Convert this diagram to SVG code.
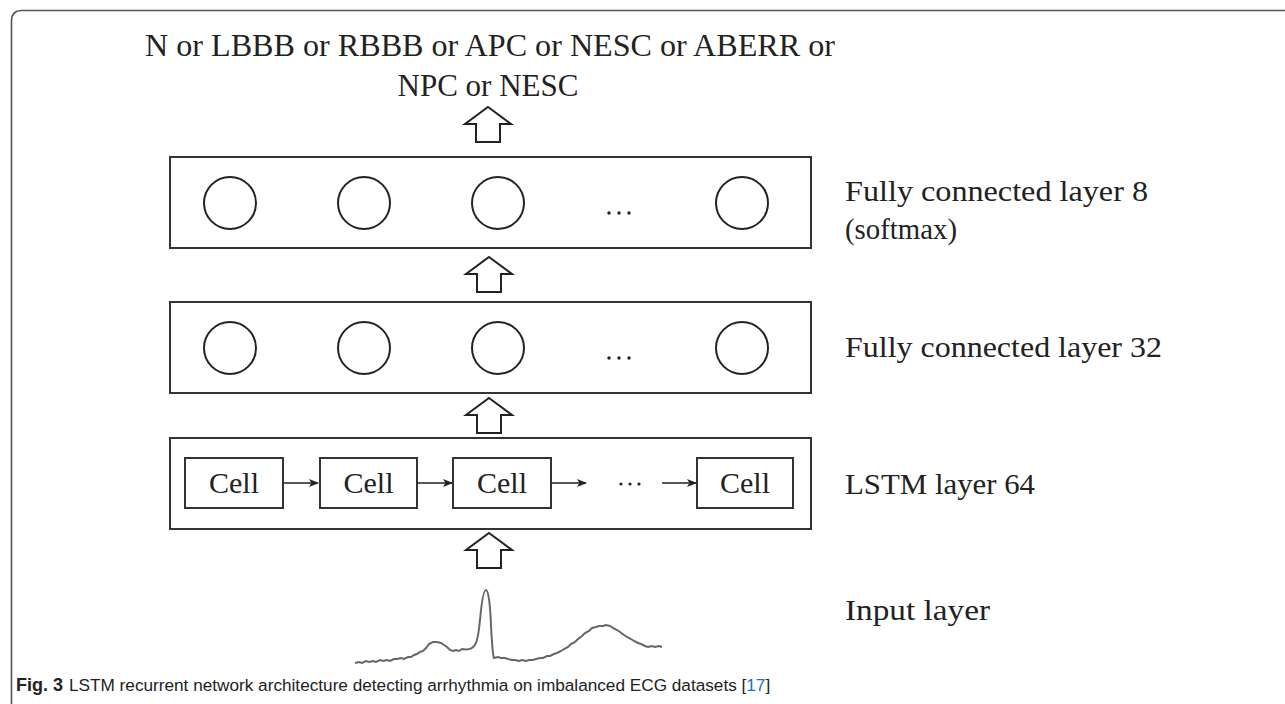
<svg xmlns="http://www.w3.org/2000/svg" width="1285" height="704" viewBox="0 0 1285 704">
<style>
.box{fill:#fff;stroke:#333;stroke-width:2}
.cell{fill:#fff;stroke:#333;stroke-width:2}
.neuron{fill:none;stroke:#222;stroke-width:2}
.up{fill:#fff;stroke:#222;stroke-width:2;stroke-linejoin:miter}
.serif{font-family:"Liberation Serif","DejaVu Serif",serif;fill:#222}
.lbl{font-size:30px}
.celltxt{font-size:30px;text-anchor:middle}
.dots{fill:#222}
.link{stroke:#222;stroke-width:1.6;fill:none}
.cap{font-family:"Liberation Sans","Noto Sans",sans-serif;font-size:17.2px;fill:#222}
</style>
<defs>
<marker id="ah" markerWidth="10" markerHeight="8" refX="9" refY="4" orient="auto" markerUnits="userSpaceOnUse">
<path d="M0,0 L10,4 L0,8 L2.5,4 Z" fill="#222"/>
</marker>
<path id="uparrow" d="M0,0 L23,17 L12,17 L12,35 L-12,35 L-12,17 L-23,17 Z"/>
</defs>
<rect width="1285" height="704" fill="#fff"/>
<path d="M11.5,704 L11.5,21 Q11.5,10.5 22,10.5 L1285,10.5" fill="none" stroke="#555" stroke-width="1.6"/>

<g id="output">
<text class="serif" x="145" y="56" font-size="31" textLength="690" lengthAdjust="spacingAndGlyphs">N or LBBB or RBBB or APC or NESC or ABERR or</text>
<text class="serif" x="488" y="96" font-size="31" text-anchor="middle">NPC or NESC</text>
</g>

<g id="fc8">
<rect class="box" x="170" y="157" width="641" height="91"/>
<circle class="neuron" cx="230" cy="203" r="26"/>
<circle class="neuron" cx="364" cy="203" r="26"/>
<circle class="neuron" cx="498" cy="203" r="26"/>
<circle class="dots" cx="609" cy="213" r="1.7"/><circle class="dots" cx="619" cy="213" r="1.7"/><circle class="dots" cx="629" cy="213" r="1.7"/>
<circle class="neuron" cx="742" cy="203" r="26"/>
<text class="serif lbl" x="845" y="201" textLength="303" lengthAdjust="spacingAndGlyphs">Fully connected layer 8</text>
<text class="serif lbl" x="845" y="239" textLength="112" lengthAdjust="spacingAndGlyphs">(softmax)</text>
</g>

<g id="fc32">
<rect class="box" x="170" y="302" width="641" height="91"/>
<circle class="neuron" cx="230" cy="348" r="26"/>
<circle class="neuron" cx="364" cy="348" r="26"/>
<circle class="neuron" cx="498" cy="348" r="26"/>
<circle class="dots" cx="609" cy="358" r="1.7"/><circle class="dots" cx="619" cy="358" r="1.7"/><circle class="dots" cx="629" cy="358" r="1.7"/>
<circle class="neuron" cx="742" cy="348" r="26"/>
<text class="serif lbl" x="845" y="357" textLength="317" lengthAdjust="spacingAndGlyphs">Fully connected layer 32</text>
</g>

<g id="lstm">
<rect class="box" x="170" y="438" width="641" height="91"/>
<rect class="cell" x="185" y="458" width="98" height="50"/>
<rect class="cell" x="320" y="458" width="97" height="50"/>
<rect class="cell" x="453" y="458" width="98" height="50"/>
<rect class="cell" x="697" y="458" width="96" height="50"/>
<text class="serif celltxt" x="234" y="493">Cell</text>
<text class="serif celltxt" x="368.5" y="493">Cell</text>
<text class="serif celltxt" x="502" y="493">Cell</text>
<text class="serif celltxt" x="745" y="493">Cell</text>
<circle class="dots" cx="621" cy="484" r="1.6"/><circle class="dots" cx="630" cy="484" r="1.6"/><circle class="dots" cx="639" cy="484" r="1.6"/>
<text class="serif lbl" x="845" y="494" textLength="190" lengthAdjust="spacingAndGlyphs">LSTM layer 64</text>
</g>

<g id="input">
<path d="M355,663 l4,-1 l3,1 l4,-2 l3,1 l4,-1 l3,1 l4,-2 l3,1 l4,-1 l3,1 l4,-2 l3,0 l4,-1 l3,1 l4,-2 l3,0 l3,-2 l3,-1 l3,-2 l3,-1 l3,-3 l3,-4 l4,-2 l4,0 l4,1 l3,2 l3,2 l3,3 l3,1 l3,-1 l3,1 l3,-2 C477,652 478,640 480,620 C482,598 484,590 486,590 C488,590 490,600 491,625 C492,645 493,656 494,658 l4,-1 l3,1 l4,0 l3,1 l4,1 l3,0 l4,1 l3,-1 l4,1 l3,-1 l4,0 l3,-1 l4,-1 l3,0 l4,-2 l3,0 l4,-2 l3,-1 l4,-2 l3,-2 l4,-2 l3,-3 l4,-2 l3,-3 l4,-3 l3,-3 l4,-2 l3,-3 l4,-1 l3,-1 l4,0 l3,-1 l4,1 l3,2 l4,2 l3,2 l4,3 l3,2 l4,2 l3,2 l4,2 l3,1 l4,2 l3,1 l4,-1 l3,1 l4,-1 l3,1" fill="none" stroke="#666" stroke-width="2"/>
<text class="serif lbl" x="845" y="620" textLength="145" lengthAdjust="spacingAndGlyphs">Input layer</text>
</g>

<g id="connectors">
<use href="#uparrow" x="488" y="107" class="up"/>
<use href="#uparrow" x="489" y="257" class="up"/>
<use href="#uparrow" x="489" y="398" class="up"/>
<use href="#uparrow" x="489" y="533" class="up"/>
<line class="link" x1="283" y1="483" x2="318" y2="483" marker-end="url(#ah)"/>
<line class="link" x1="417" y1="483" x2="452" y2="483" marker-end="url(#ah)"/>
<line class="link" x1="551" y1="483" x2="586" y2="483" marker-end="url(#ah)"/>
<line class="link" x1="662" y1="483" x2="696" y2="483" marker-end="url(#ah)"/>
</g>

<g id="caption">
<text class="cap" x="16" y="691"><tspan font-weight="bold" font-size="18">Fig. 3</tspan><tspan x="69">LSTM recurrent network architecture detecting arrhythmia on imbalanced ECG datasets [</tspan><tspan fill="#1a6fd0">17</tspan><tspan>]</tspan></text>
</g>
</svg>
